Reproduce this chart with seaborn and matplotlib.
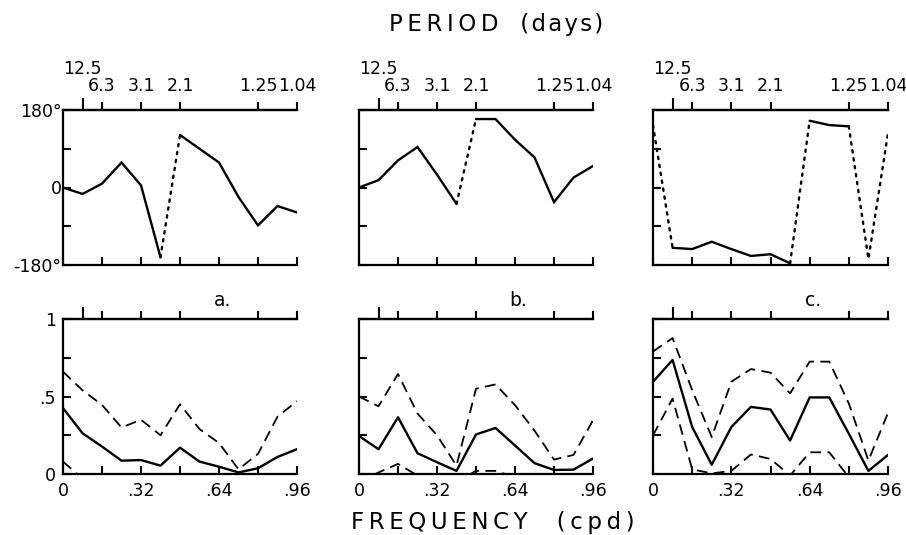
import numpy as np
import pandas as pd
import matplotlib
matplotlib.use("Agg")
import matplotlib.pyplot as plt
import seaborn as sns

# ---------------- data ----------------
freq = [0.00, 0.08, 0.16, 0.24, 0.32, 0.40, 0.48, 0.56, 0.64, 0.72, 0.80, 0.88, 0.96]

phase_a = [0, -15, 9, 58, 5, -162, 122, 90, 58, -22, -88, -43, -58]
phase_b = [0, 17, 63, 94, 30, -38, 159, 159, 111, 70, -34, 23, 50]
phase_c = [145, -140, -143, -126, -143, -159, -155, -176, 155, 145, 142, -166, 126]

coh_a = [0.425, 0.263, 0.177, 0.086, 0.090, 0.054, 0.170, 0.080, 0.047, 0.010, 0.037, 0.110, 0.160]
up_a = [0.660, 0.540, 0.446, 0.300, 0.350, 0.250, 0.450, 0.290, 0.200, 0.030, 0.130, 0.370, 0.470]
lo_a = [0.080, -0.030, -0.050, -0.050, -0.050, -0.050, -0.050, -0.050, -0.050, -0.050, -0.050, -0.050, -0.050]

coh_b = [0.245, 0.160, 0.366, 0.134, 0.076, 0.020, 0.255, 0.297, 0.184, 0.070, 0.026, 0.028, 0.100]
up_b = [0.500, 0.437, 0.645, 0.390, 0.250, 0.054, 0.550, 0.578, 0.444, 0.280, 0.093, 0.123, 0.346]
lo_b = [-0.050, 0.010, 0.065, -0.010, -0.050, -0.050, 0.020, 0.020, -0.020, -0.050, -0.050, -0.050, -0.050]

coh_c = [0.595, 0.736, 0.303, 0.060, 0.303, 0.433, 0.416, 0.216, 0.494, 0.494, 0.260, 0.020, 0.123]
up_c = [0.790, 0.877, 0.541, 0.238, 0.595, 0.677, 0.654, 0.520, 0.725, 0.725, 0.455, 0.087, 0.394]
lo_c = [0.249, 0.487, 0.030, 0.004, 0.020, 0.126, 0.097, -0.010, 0.140, 0.140, -0.020, -0.100, -0.100]

period_cpd = [0.08, 0.16, 0.32, 0.48, 0.80, 0.96]
period_labels = ["12.5", "6.3", "3.1", "2.1", "1.25", "1.04"]
freq_ticks = [0.00, 0.16, 0.32, 0.48, 0.64, 0.80, 0.96]
freq_labels = ["0", "", ".32", "", ".64", "", ".96"]
phase_ticks = [-180, -90, 0, 90, 180]
phase_labels = ["-180°", "", "0", "", "180°"]
coh_ticks = [0, 0.25, 0.5, 0.75, 1.0]
coh_labels = ["0", "", ".5", "", "1"]
panel_letters = ["a.", "b.", "c."]

phases = [phase_a, phase_b, phase_c]
cohs = [(coh_a, up_a, lo_a), (coh_b, up_b, lo_b), (coh_c, up_c, lo_c)]

# ---------------- style ----------------
sns.set_style("ticks")
plt.rcParams["font.family"] = ["DejaVu Sans"]
plt.rcParams["axes.linewidth"] = 1.6
plt.rcParams["axes.edgecolor"] = "black"
plt.rcParams["text.color"] = "black"
plt.rcParams["xtick.color"] = "black"
plt.rcParams["ytick.color"] = "black"

fig = plt.figure(figsize=(9.06, 5.35), dpi=100)
W, H = 906, 535
lefts = [63, 359, 653]
widths = [234, 234, 235]
tops = [110, 319]
hgt = 155

LW = 1.7
FS = 12.5


def phase_runs(x, y):
    """split into solid runs and dotted (wrap) segments"""
    runs = []
    cur = [0]
    cur_kind = None
    for i in range(len(x) - 1):
        kind = "dotted" if abs(y[i + 1] - y[i]) > 180 else "solid"
        if cur_kind is None or kind == cur_kind:
            cur.append(i + 1)
            cur_kind = kind
        else:
            runs.append((cur_kind, cur))
            cur = [i, i + 1]
            cur_kind = kind
    runs.append((cur_kind, cur))
    return runs


def style_axes(ax, row, col):
    ax.set_xlim(0, 0.96)
    ax.spines["right"].set_visible(False)
    ax.set_xticks(freq_ticks)
    ax.set_xticklabels(freq_labels if row == 1 else [""] * len(freq_ticks), fontsize=FS)
    if row == 0:
        ax.set_ylim(-180, 180)
        ax.set_yticks(phase_ticks)
        ax.set_yticklabels(phase_labels if col == 0 else [""] * 5, fontsize=FS)
        ypad = 1
    else:
        ax.set_ylim(0, 1)
        ax.set_yticks(coh_ticks)
        ax.set_yticklabels(coh_labels if col == 0 else [""] * 5, fontsize=FS)
        ypad = 5
    ax.tick_params(axis="x", direction="in", length=6, width=1.5, pad=6, top=False, colors="black")
    ax.tick_params(axis="y", direction="in", length=6, width=1.5, pad=ypad, right=False, colors="black")
    ax.set_xlabel("")
    ax.set_ylabel("")
    sec = ax.secondary_xaxis("top")
    sec.set_xticks(period_cpd)
    sec.set_xticklabels(period_labels if row == 0 else [""] * len(period_cpd), fontsize=FS)
    sec.tick_params(direction="out", length=6, width=1.5, pad=5, colors="black")
    sec.spines["top"].set_linewidth(1.6)
    ticks = sec.xaxis.get_major_ticks()
    ticks[0].set_pad(17)
    for ln in (ticks[0].tick1line, ticks[0].tick2line):
        ln.set_markersize(9)


for col in range(3):
    # phase panel
    ax = fig.add_axes([lefts[col] / W, 1 - (tops[0] + hgt) / H, widths[col] / W, hgt / H])
    ph = phases[col]
    for kind, idx in phase_runs(freq, ph):
        xs = [freq[i] for i in idx]
        ys = [ph[i] for i in idx]
        if kind == "solid":
            sns.lineplot(x=xs, y=ys, ax=ax, color="black", lw=LW, estimator=None,
                         solid_joinstyle="miter")
        else:
            sns.lineplot(x=xs, y=ys, ax=ax, color="black", lw=LW, estimator=None,
                         linestyle=(0, (1, 2.4)), dash_capstyle="round")
    style_axes(ax, 0, col)

    # coherence panel
    ax2 = fig.add_axes([lefts[col] / W, 1 - (tops[1] + hgt) / H, widths[col] / W, hgt / H])
    coh, up, lo = cohs[col]
    df = pd.DataFrame({"freq": freq, "coh": coh, "up": up, "lo": lo})
    sns.lineplot(data=df, x="freq", y="coh", ax=ax2, color="black", lw=LW, estimator=None)
    sns.lineplot(data=df, x="freq", y="up", ax=ax2, color="black", lw=1.3, estimator=None,
                 linestyle=(0, (6, 3.5)))
    sns.lineplot(data=df, x="freq", y="lo", ax=ax2, color="black", lw=1.3, estimator=None,
                 linestyle=(0, (6, 3.5)))
    style_axes(ax2, 1, col)
    ax2.text(0.68, 1.12, panel_letters[col], transform=ax2.transAxes, ha="center",
             va="center", fontsize=FS + 1)

TS = "\u2009"
HS = "\u200a"
title = TS.join("PERIOD") + "   " + HS.join("(days)")
xlab = TS.join("FREQUENCY") + "    " + TS.join("(cpd)")
fig.text(496 / W, 1 - 25 / H, title, ha="center", va="center", fontsize=16.5)
fig.text(493 / W, 1 - 522 / H, xlab, ha="center", va="center", fontsize=16.5)

fig.savefig("out.png", dpi=100)
